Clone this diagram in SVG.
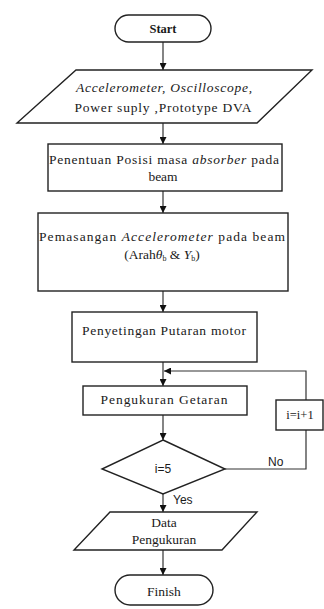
<svg xmlns="http://www.w3.org/2000/svg" width="324" height="609" viewBox="0 0 324 609">
<defs>
<marker id="ah" viewBox="0 0 8 8" refX="8" refY="4" markerWidth="7" markerHeight="7" markerUnits="userSpaceOnUse" orient="auto">
<path d="M0,0 L8,4 L0,8 z" fill="#111"/>
</marker>
<style>
.s{fill:#fff;stroke:#222;stroke-width:1.4}
.t{font-family:'Liberation Serif','Times New Roman',serif;font-size:13.5px;fill:#1a1a1a;text-anchor:middle}
.a{font-family:'Liberation Sans',Arial,sans-serif;font-size:12px;fill:#1a1a1a}
.c{fill:none;stroke:#333;stroke-width:1.2}
</style>
</defs>
<rect width="324" height="609" fill="#fff"/>
<g id="connectors">
<line class="c" x1="163" y1="42" x2="163" y2="70" marker-end="url(#ah)"/>
<line class="c" x1="163" y1="123" x2="163" y2="144" marker-end="url(#ah)"/>
<line class="c" x1="163" y1="191" x2="163" y2="213" marker-end="url(#ah)"/>
<line class="c" x1="163" y1="291" x2="163" y2="312" marker-end="url(#ah)"/>
<line class="c" x1="163" y1="362" x2="163" y2="386" marker-end="url(#ah)"/>
<line class="c" x1="163" y1="415" x2="163" y2="440" marker-end="url(#ah)"/>
<line class="c" x1="163" y1="494" x2="163" y2="512" marker-end="url(#ah)"/>
<line class="c" x1="163" y1="550" x2="163" y2="575" marker-end="url(#ah)"/>
<polyline class="c" points="225,469 306,469 306,430"/>
<polyline class="c" points="306,400 306,371 164,371" marker-end="url(#ah)"/>
<text class="a" x="268" y="466">No</text>
<text class="a" x="173" y="504">Yes</text>
</g>
<g id="start">
<rect class="s" x="115" y="15" width="96" height="27" rx="13.5"/>
<text class="t" x="163" y="33" style="font-weight:bold;font-size:12.5px">Start</text>
</g>
<g id="input">
<polygon class="s" points="76,70 312,70 257,123 17,123"/>
<text class="t" x="164" y="92" font-style="italic" textLength="176">Accelerometer, Oscilloscope,</text>
<text class="t" x="163" y="112" textLength="177">Power suply ,Prototype DVA</text>
</g>
<g id="posisi">
<rect class="s" x="48" y="144" width="234" height="47"/>
<text class="t" x="164" y="164" textLength="230"><tspan>Penentuan Posisi masa </tspan><tspan font-style="italic">absorber</tspan><tspan>  pada</tspan></text>
<text class="t" x="163" y="181">beam</text>
</g>
<g id="pemasangan">
<rect class="s" x="38" y="213" width="250" height="78"/>
<text class="t" x="162" y="241" textLength="246"><tspan>Pemasangan </tspan><tspan font-style="italic">Accelerometer</tspan><tspan> pada beam</tspan></text>
<text class="t" x="162" y="259">(Arah<tspan font-style="italic">θ</tspan><tspan style="font-size:8px" dy="2">b</tspan><tspan dy="-2"> &amp; </tspan><tspan font-style="italic">Y</tspan><tspan style="font-size:8px" dy="2">b</tspan><tspan dy="-2">)</tspan></text>
</g>
<g id="penyetingan">
<rect class="s" x="72" y="312" width="185" height="50"/>
<text class="t" x="164" y="335" textLength="164">Penyetingan Putaran motor</text>
</g>
<g id="pengukuran">
<rect class="s" x="83" y="386" width="164" height="29"/>
<text class="t" x="164" y="404" textLength="127">Pengukuran Getaran</text>
</g>
<g id="increment">
<rect class="s" x="276" y="400" width="47" height="30"/>
<text class="t" x="300" y="419" style="font-size:12.5px">i=i+1</text>
</g>
<g id="decision">
<polygon class="s" points="163,440 225,469 163,494 102,469"/>
<text class="a" x="163" y="473" text-anchor="middle">i=5</text>
</g>
<g id="output">
<polygon class="s" points="110,512 257,512 222,550 74,550"/>
<text class="t" x="164" y="527">Data</text>
<text class="t" x="164" y="544">Pengukuran</text>
</g>
<g id="finish">
<rect class="s" x="115" y="575" width="98" height="30" rx="15"/>
<text class="t" x="164" y="596">Finish</text>
</g>
</svg>
